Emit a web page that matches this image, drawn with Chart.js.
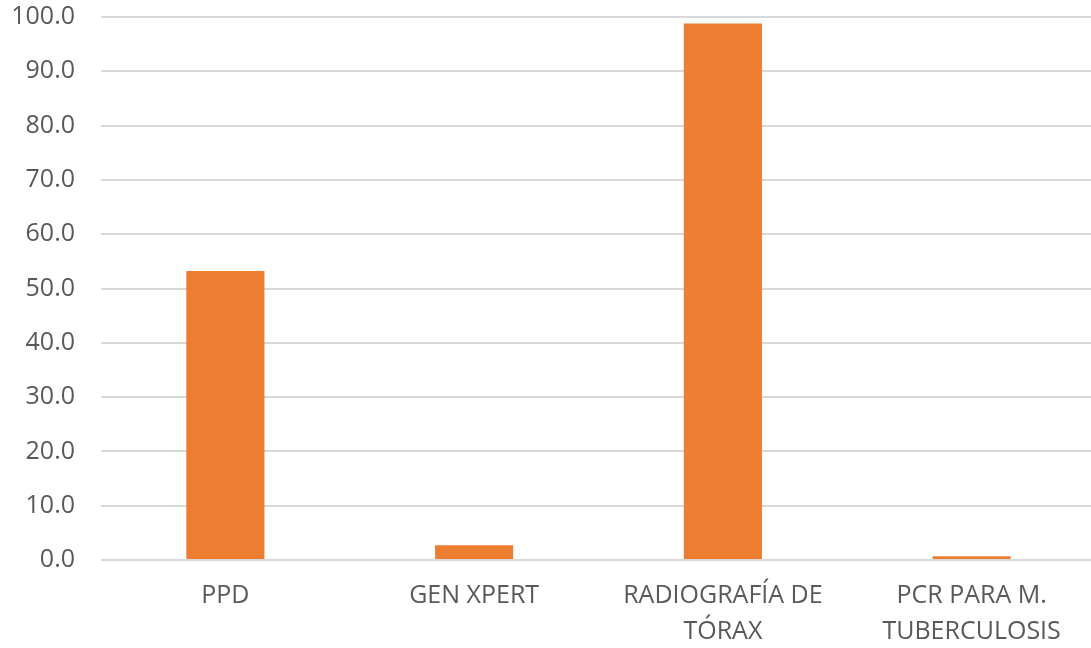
<!DOCTYPE html>
<html>
<head>
<meta charset="utf-8">
<script src="https://cdn.jsdelivr.net/npm/chart.js@4/dist/chart.umd.min.js"></script>
<style>
  html, body { margin: 0; padding: 0; background: #ffffff; overflow: hidden; }
  #wrap { position: relative; width: 1100px; height: 648px; }
</style>
</head>
<body>
<div id="wrap"><canvas id="chart"></canvas></div>
<script>
// Chart data
const categories = ['PPD', 'GEN XPERT', ['RADIOGRAFÍA DE', 'TÓRAX'], ['PCR PARA M.', 'TUBERCULOSIS']];
const values = [53.2, 2.7, 98.8, 0.7];
const yMin = 0;
const yMax = 100;
const yStep = 10;

const textColor = '#595959';
const gridColor = '#d9d9d9';
const fontFamily = '"Open Sans", "Liberation Sans", sans-serif';

const ctx = document.getElementById('chart').getContext('2d');
new Chart(ctx, {
    type: 'bar',
    data: {
        labels: categories,
        datasets: [{
            data: values,
            backgroundColor: '#ed7d31',
            borderWidth: 0,
            barPercentage: 0.314,
            categoryPercentage: 1.0
        }]
    },
    options: {
        responsive: true,
        maintainAspectRatio: false,
        animation: false,
        layout: { padding: { top: 17, right: 4, left: 0, bottom: 0 } },
        plugins: {
            legend: { display: false },
            tooltip: { enabled: false }
        },
        scales: {
            x: {
                grid: { display: false, drawTicks: false },
                border: { display: false },
                ticks: {
                    color: textColor,
                    padding: 18,
                    maxRotation: 0,
                    autoSkip: false,
                    font: { family: fontFamily, size: 25, lineHeight: 1.44 }
                },
                afterFit: (scale) => {
                    scale.height = 88;
                    scale.paddingLeft = 0;
                    scale.paddingRight = 0;
                    scale.paddingTop = 0;
                    scale.paddingBottom = 0;
                }
            },
            y: {
                min: yMin,
                max: yMax,
                grid: { color: gridColor, lineWidth: 2, drawTicks: false },
                border: { display: false },
                ticks: {
                    stepSize: yStep,
                    color: textColor,
                    padding: 26,
                    font: { family: fontFamily, size: 25 },
                    callback: (v) => Number(v).toFixed(1)
                },
                afterFit: (scale) => {
                    scale.width = 101;
                    scale.paddingTop = 0;
                    scale.paddingBottom = 0;
                    scale.paddingLeft = 0;
                    scale.paddingRight = 0;
                }
            }
        }
    }
});
</script>
</body>
</html>
